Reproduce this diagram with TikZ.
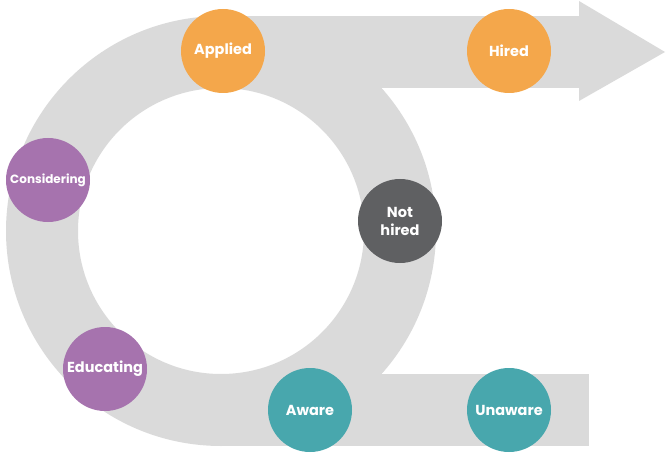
\documentclass[tikz,border=0pt]{standalone}
\usepackage{fontspec}
\setmainfont{Poppins}
\definecolor{band}{HTML}{DADADA}
\definecolor{orng}{HTML}{F4A74B}
\definecolor{purp}{HTML}{A673AE}
\definecolor{teal}{HTML}{48A7AD}
\definecolor{dgray}{HTML}{5F6062}
\tikzset{
  stage/.style={circle, minimum size=84pt, inner sep=0pt, text=white, font=\bfseries\fontsize{14.5}{18}\selectfont, align=center},
}
\begin{document}
\begin{tikzpicture}[x=1pt,y=1pt]
\useasboundingbox (0,0) rectangle (666,453);
% band
\fill[band, even odd rule] (221,222) circle (215) (221,222) circle (143);
\fill[band] (221,365) rectangle (579,437);
\fill[band] (579,452) -- (665,401) -- (579,352) -- cycle;
\fill[band] (221,7) rectangle (589,79);
% stages
\node[stage, fill=orng] (applied) at (223,402) {Applied};
\node[stage, fill=orng] (hired) at (509,402) {Hired};
\node[stage, fill=purp, font=\bfseries\fontsize{12}{14}\selectfont] (considering) at (48,273) {Considering};
\node[stage, fill=dgray] (nothired) at (400,232) {Not\\hired};
\node[stage, fill=purp] (educating) at (105,84) {Educating};
\node[stage, fill=teal] (aware) at (310,43) {Aware};
\node[stage, fill=teal] (unaware) at (509,43) {Unaware};
\end{tikzpicture}
\end{document}
